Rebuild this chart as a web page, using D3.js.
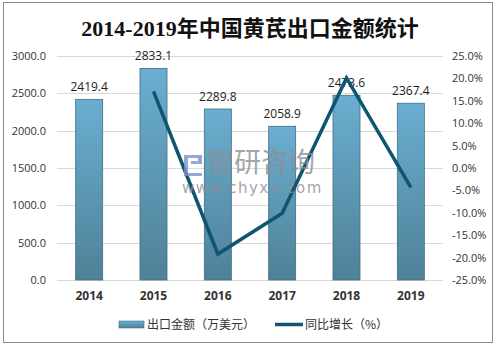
<!DOCTYPE html>
<html>
<head>
<meta charset="utf-8">
<script src="https://cdn.jsdelivr.net/npm/d3@7/dist/d3.min.js"></script>
<style>
  html, body { margin: 0; padding: 0; background: #fff; }
  svg { display: block; }
</style>
</head>
<body>
<svg id="chart" width="500" height="350"></svg>
<script>
// Yearly export value (10k USD) and year-on-year growth (%)
const years = ["2014", "2015", "2016", "2017", "2018", "2019"];
const exportValues = [2419.4, 2833.1, 2289.8, 2058.9, 2473.6, 2367.4];
const growthRates = [null, 17.1, -19.2, -10.1, 20.1, -4.3];
const leftTicks = [0, 500, 1000, 1500, 2000, 2500, 3000];
const rightTicks = [-25, -20, -15, -10, -5, 0, 5, 10, 15, 20, 25];

const svg = d3.select("#chart");
const W = 500, H = 350;
const plot = { left: 57, right: 443, top: 56, bottom: 280 };

svg.append("rect").attr("x", 0).attr("y", 0).attr("width", W).attr("height", H).attr("fill", "#fff");
svg.append("rect").attr("x", 3.5).attr("y", 2.5).attr("width", 489).attr("height", 340)
  .attr("fill", "none").attr("stroke", "#8c8c8c").attr("stroke-width", 1);

const x = d3.scaleBand().domain(years).range([plot.left, plot.right]).paddingInner(0.58).paddingOuter(0.29);
const yL = d3.scaleLinear().domain([0, 3000]).range([plot.bottom, plot.top]);
const yR = d3.scaleLinear().domain([-25, 25]).range([plot.bottom, plot.top]);

// title
svg.append("text").attr("x", 250).attr("y", 36).attr("text-anchor", "middle")
  .attr("font-family", "'Liberation Serif','Noto Sans CJK SC',serif")
  .attr("font-size", 22).attr("font-weight", "bold").attr("fill", "#111")
  .text("2014-2019年中国黄芪出口金额统计");

// gridlines
svg.append("g").selectAll("line").data(leftTicks).join("line")
  .attr("x1", plot.left).attr("x2", plot.right)
  .attr("y1", d => Math.round(yL(d)) + 0.5).attr("y2", d => Math.round(yL(d)) + 0.5)
  .attr("stroke", "#d9d9d9").attr("stroke-width", 1);

// left axis
const axisFont = "'Open Sans','Noto Sans',sans-serif";
const gL = svg.append("g").attr("transform", `translate(${plot.left},0)`)
  .call(d3.axisLeft(yL).tickValues(leftTicks).tickFormat(d3.format(".1f")).tickSize(0).tickPadding(11));
gL.select(".domain").remove();
gL.selectAll("text").attr("font-family", axisFont).attr("font-size", 11).attr("fill", "#333");

// right axis
const gR = svg.append("g").attr("transform", `translate(${plot.right},0)`)
  .call(d3.axisRight(yR).tickValues(rightTicks).tickFormat(d => d.toFixed(1) + "%").tickSize(0).tickPadding(9));
gR.select(".domain").remove();
gR.selectAll("text").attr("font-family", axisFont).attr("font-size", 11).attr("fill", "#333");

// bottom axis
const gB = svg.append("g").attr("transform", `translate(0,${plot.bottom})`)
  .call(d3.axisBottom(x).tickSize(0).tickPadding(11));
gB.select(".domain").remove();
gB.selectAll("text").attr("font-family", axisFont).attr("font-size", 12).attr("font-weight", "bold").attr("fill", "#333");

// bar gradient
const defs = svg.append("defs");
const grad = defs.append("linearGradient").attr("id", "barGrad").attr("x1", 0).attr("y1", 0).attr("x2", 0).attr("y2", 1);
grad.append("stop").attr("offset", "0%").attr("stop-color", "#6aaed0");
grad.append("stop").attr("offset", "100%").attr("stop-color", "#4f8197");
const lgGrad = defs.append("linearGradient").attr("id", "legGrad").attr("x1", 0).attr("y1", 0).attr("x2", 0).attr("y2", 1);
lgGrad.append("stop").attr("offset", "0%").attr("stop-color", "#6aaed0");
lgGrad.append("stop").attr("offset", "100%").attr("stop-color", "#4f8197");

svg.append("g").selectAll("rect").data(years).join("rect")
  .attr("x", d => x(d)).attr("width", x.bandwidth())
  .attr("y", (d, i) => yL(exportValues[i]))
  .attr("height", (d, i) => plot.bottom - yL(exportValues[i]))
  .attr("fill", "url(#barGrad)").attr("stroke", "#3f6f86").attr("stroke-width", 0.8);

// value labels
svg.append("g").selectAll("text").data(years).join("text")
  .attr("x", d => x(d) + x.bandwidth() / 2)
  .attr("y", (d, i) => yL(exportValues[i]) - 8)
  .attr("text-anchor", "middle").attr("font-family", axisFont).attr("font-size", 12).attr("fill", "#222")
  .text((d, i) => exportValues[i].toFixed(1));

// growth line
const pts = years.map((d, i) => [x(d) + x.bandwidth() / 2, growthRates[i]]).filter(p => p[1] !== null);
svg.append("path").datum(pts)
  .attr("d", d3.line().x(p => p[0]).y(p => yR(p[1])))
  .attr("fill", "none").attr("stroke", "#0d5570").attr("stroke-width", 3.5).attr("stroke-linejoin", "miter");

// watermark
const wm = svg.append("g").attr("opacity", 0.8);
wm.append("path")
  .attr("d", "M184,155 h18 v9 h-11 v-3 h7 v-3 h-10 v15 h14 v3 h-18 z")
  .attr("fill", "#7f8fcf");
wm.append("text").attr("x", 207).attr("y", 172).attr("font-family", "'Noto Sans CJK SC',sans-serif")
  .attr("font-size", 27).attr("fill", "#8a9097").text("智研咨询");
wm.append("text").attr("x", 182).attr("y", 193).attr("font-family", "'DejaVu Sans',sans-serif")
  .attr("font-size", 15).attr("letter-spacing", 1.5).attr("fill", "#8a9097").text("www.chyxx.com");

// legend
const leg = svg.append("g").attr("font-family", "'Noto Sans CJK SC',sans-serif").attr("font-size", 12).attr("fill", "#333");
leg.append("rect").attr("x", 119).attr("y", 321).attr("width", 25).attr("height", 7)
  .attr("fill", "url(#legGrad)").attr("stroke", "#3f6f86").attr("stroke-width", 0.6);
leg.append("text").attr("x", 147).attr("y", 329).text("出口金额（万美元）");
leg.append("line").attr("x1", 275).attr("x2", 303).attr("y1", 324.5).attr("y2", 324.5)
  .attr("stroke", "#0d5570").attr("stroke-width", 3.5);
leg.append("text").attr("x", 305).attr("y", 329).text("同比增长（%）");
</script>
</body>
</html>
